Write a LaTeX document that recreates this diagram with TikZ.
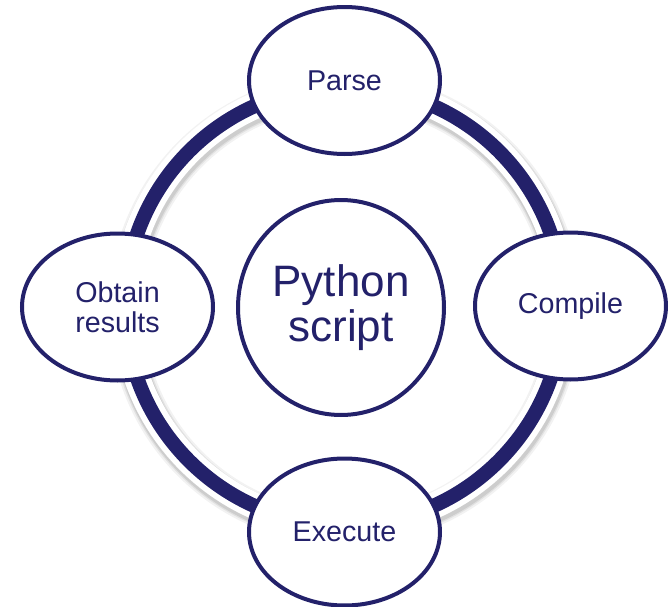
\documentclass[tikz,border=0pt]{standalone}
\usepackage{fontspec}
\setmainfont{Liberation Sans}
\usetikzlibrary{shapes.geometric}
\definecolor{navy}{RGB}{35,33,106}

\begin{document}
\begin{tikzpicture}[x=0.75pt,y=-0.75pt,
  stage/.style={ellipse, draw=navy, line width=3pt, fill=white, text=navy,
    font=\fontsize{21.5}{22.5}\selectfont, align=center, inner sep=0pt,
    minimum width=143.25pt, minimum height=110.25pt},
  core/.style={ellipse, draw=navy, line width=3pt, fill=white, text=navy,
    font=\fontsize{33}{34}\selectfont, align=center, inner sep=0pt,
    minimum width=154.5pt, minimum height=161.25pt}]

\useasboundingbox (0,0) rectangle (669,607);

\coordinate (ringc) at (344,306);
\coordinate (shadc) at (345,309);

% soft drop shadow under the cycle ring
\draw[draw=black, opacity=0.05, line width=26pt] (shadc) circle[radius=164.25pt];
\draw[draw=black, opacity=0.07, line width=23pt] (shadc) circle[radius=164.25pt];
\draw[draw=black, opacity=0.09, line width=21pt] (shadc) circle[radius=164.25pt];

% white halo and navy ring
\draw[white, line width=19.5pt] (ringc) circle[radius=164.25pt];
\draw[navy, line width=10.8pt] (ringc) circle[radius=164.25pt];

% stages of the cycle
\node[stage] (parse)   at (344.5,80.5) {Parse};
\node[stage] (compile) at (570.5,306)  {Compile};
\node[stage] (execute) at (344.5,532)  {Execute};
\node[stage] (obtain)  at (117.5,307)  {Obtain\\results};

% the script in the middle
\node[core] (script) at (341,307.5) {Python\\script};

\end{tikzpicture}
\end{document}
